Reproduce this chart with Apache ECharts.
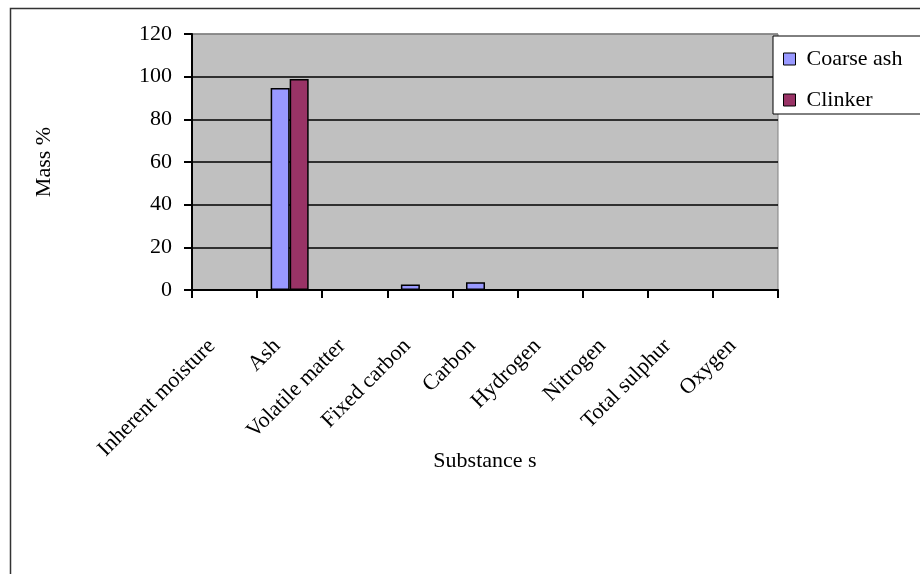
<!DOCTYPE html>
<html>
<head>
<meta charset="utf-8">
<script src="https://cdn.jsdelivr.net/npm/echarts@6/dist/echarts.min.js"></script>
<style>
html,body{margin:0;padding:0;background:#fff;}
#main{width:920px;height:574px;}
</style>
</head>
<body>
<div id="main"></div>
<script>
//categories on the x axis
var substances = ['Inherent moisture', 'Ash', 'Volatile matter', 'Fixed carbon', 'Carbon', 'Hydrogen', 'Nitrogen', 'Total sulphur', 'Oxygen'];
//series values (mass %)
var coarseAsh = [0, 94.7, 0, 2.6, 3.6, 0, 0, 0, 0];
var clinker = [0, 98.9, 0, 0, 0, 0, 0, 0, 0];
var seriesNames = ['Coarse ash', 'Clinker'];

var chart = echarts.init(document.getElementById('main'));
var serif = "'Liberation Serif', 'DejaVu Serif', serif";

var option = {
    backgroundColor: '#fff',
    animation: false,
    graphic: [
        {//outer chart frame
            type: 'polyline',
            shape: {points: [[10.5, 574], [10.5, 8.5], [920, 8.5]]},
            style: {stroke: '#333', lineWidth: 1.5, fill: null}
        }
    ],
    legend: {
        left: 773,
        top: 36,
        orient: 'vertical',
        icon: 'rect',
        itemWidth: 12,
        itemHeight: 12,
        itemGap: 19,
        padding: [12, 40, 3, 10],
        backgroundColor: '#fff',
        borderColor: '#000',
        borderWidth: 1,
        itemStyle: {borderColor: '#000', borderWidth: 1},
        textStyle: {fontFamily: serif, fontSize: 22, color: '#000', padding: [0, 0, 0, 6]},
        data: seriesNames
    },
    grid: {
        left: 192,
        right: 142,
        top: 34,
        bottom: 284,
        show: true,
        backgroundColor: '#c0c0c0',
        borderColor: '#808080',
        borderWidth: 1
    },
    xAxis: {
        type: 'category',
        data: substances,
        name: 'Substance s',
        nameLocation: 'middle',
        nameGap: 160,
        nameMoveOverlap: false,
        nameTextStyle: {fontFamily: serif, fontSize: 22, color: '#000'},
        axisLine: {lineStyle: {color: '#000', width: 2}},
        axisTick: {show: true, interval: 0, length: 8, lineStyle: {color: '#000', width: 2}},
        //padding on the right nudges the rotated labels down-left, as in the original
        axisLabel: {interval: 0, rotate: 45, margin: 40, padding: [0, 18, 0, 0], fontFamily: serif, fontSize: 22, color: '#000'}
    },
    yAxis: {
        type: 'value',
        min: 0,
        max: 120,
        interval: 20,
        name: 'Mass %',
        nameLocation: 'middle',
        nameRotate: 90,
        nameGap: 137,
        nameTextStyle: {fontFamily: serif, fontSize: 22, color: '#000'},
        axisLine: {show: true, lineStyle: {color: '#000', width: 2}},
        axisTick: {show: true, inside: false, length: 8, lineStyle: {color: '#000', width: 2}},
        axisLabel: {margin: 20, fontFamily: serif, fontSize: 22, color: '#000'},
        splitLine: {show: true, lineStyle: {color: ['#000', '#000', '#000', '#000', '#000', '#000', '#808080'], width: 1.5}}
    },
    series: [
        {
            name: seriesNames[0],
            type: 'bar',
            barWidth: 19,
            barGap: '0%',
            itemStyle: {color: '#9999ff', borderColor: '#000', borderWidth: 1.5},
            data: coarseAsh
        },
        {
            name: seriesNames[1],
            type: 'bar',
            barWidth: 19,
            barGap: '0%',
            itemStyle: {color: '#993366', borderColor: '#000', borderWidth: 1.5},
            data: clinker
        }
    ]
};
chart.setOption(option);
</script>
</body>
</html>
